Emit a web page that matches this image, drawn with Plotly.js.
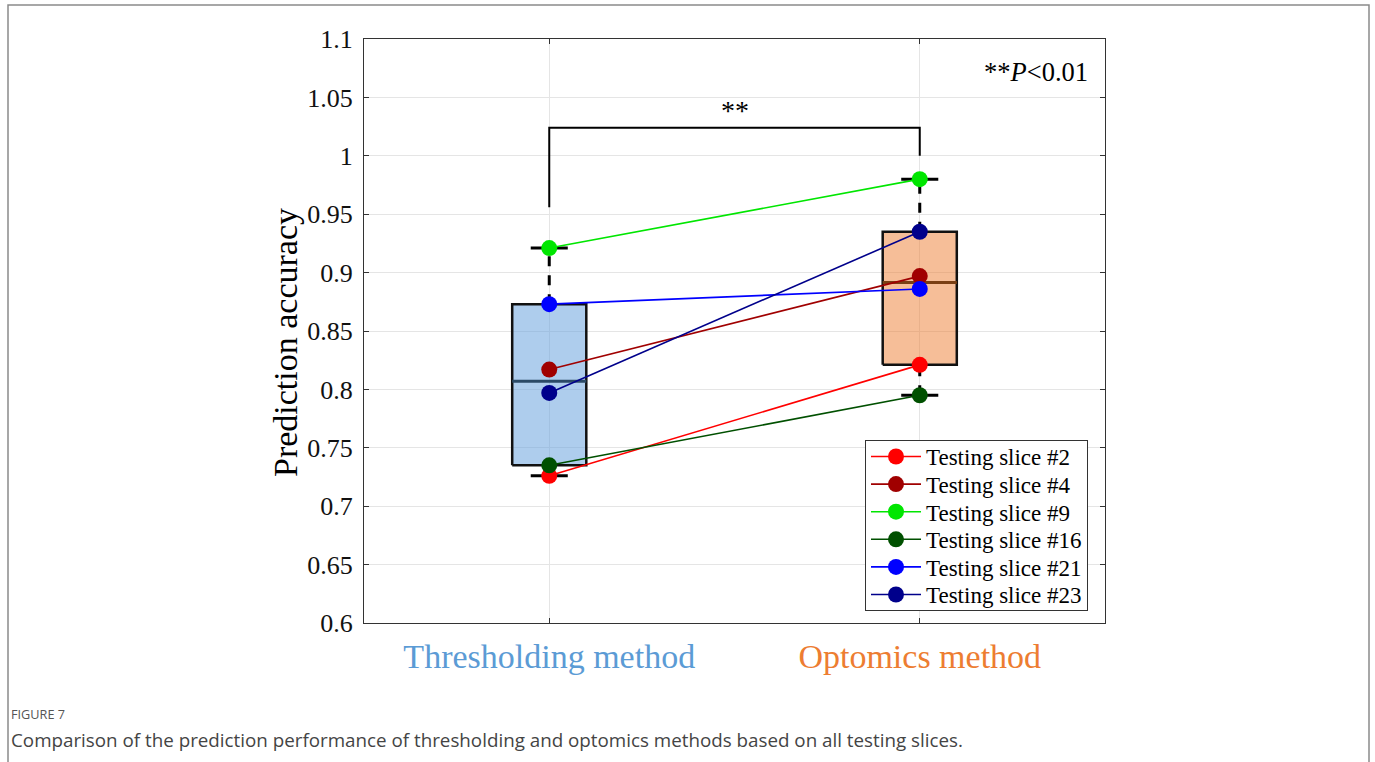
<!DOCTYPE html>
<html>
<head>
<meta charset="utf-8">
<script src="https://cdn.plot.ly/plotly-3.0.1.min.js"></script>
<style>
  html, body { margin: 0; padding: 0; background: #fff; }
  #chart { width: 1375px; height: 762px; }
</style>
</head>
<body>
<div id="chart"></div>
<script>
// ---------- data ----------
const methods = ['Thresholding method', 'Optomics method'];
const methodColors = ['#5b9bd5', '#ed7d31'];
const sliceNames = ['Testing slice #2', 'Testing slice #4', 'Testing slice #9',
                    'Testing slice #16', 'Testing slice #21', 'Testing slice #23'];
const sliceColors = ['#ff0000', '#a00000', '#00e600', '#005000', '#0000ff', '#00008b'];
const thresholdingAcc = [0.726, 0.817, 0.921, 0.735, 0.873, 0.797];
const optomicsAcc     = [0.821, 0.897, 0.980, 0.795, 0.886, 0.935];
const yTickVals = [0.6, 0.65, 0.7, 0.75, 0.8, 0.85, 0.9, 0.95, 1, 1.05, 1.1];
const yTickText = ['0.6', '0.65', '0.7', '0.75', '0.8', '0.85', '0.9', '0.95', '1', '1.05', '1.1'];
const bracketY = [0.956, 1.024, 1.024, 1.0];
const sigLabel = '**';
const pLabel = '**<i>P</i>&lt;0.01';
const figLabel = 'FIGURE 7';
const captionText = 'Comparison of the prediction performance of thresholding and optomics methods based on all testing slices.';

// ---------- helpers ----------
function prctile(arr, p) { // MATLAB-style percentile
  const s = arr.slice().sort((a, b) => a - b);
  const n = s.length;
  const pos = n * p / 100 + 0.5; // 1-based
  if (pos <= 1) return s[0];
  if (pos >= n) return s[n - 1];
  const lo = Math.floor(pos), f = pos - lo;
  return s[lo - 1] + f * (s[lo] - s[lo - 1]);
}
function boxStats(arr) {
  const q1 = prctile(arr, 25), q3 = prctile(arr, 75), med = prctile(arr, 50);
  const iqr = q3 - q1;
  const inside = arr.filter(v => v >= q1 - 1.5 * iqr && v <= q3 + 1.5 * iqr);
  return { q1, q3, med, lo: Math.min(...inside), hi: Math.max(...inside) };
}

const groups = [thresholdingAcc, optomicsAcc];
const boxFill = ['rgba(100,160,220,0.52)', 'rgba(237,125,49,0.5)'];
const medianColor = ['#2b4a66', '#7a3f14'];
const boxHalf = 0.1, capHalf = 0.05;

const traces = [];
groups.forEach((g, i) => {
  const s = boxStats(g);
  traces.push({ x: [i, i], y: [s.q3, s.hi], mode: 'lines', showlegend: false, hoverinfo: 'skip',
    line: { color: '#000', width: 3, dash: '10px,9px' } });
  traces.push({ x: [i, i], y: [s.lo, s.q1], mode: 'lines', showlegend: false, hoverinfo: 'skip',
    line: { color: '#000', width: 3, dash: '10px,9px' } });
  traces.push({ x: [i - capHalf, i + capHalf, null, i - capHalf, i + capHalf],
    y: [s.hi, s.hi, null, s.lo, s.lo], mode: 'lines', showlegend: false, hoverinfo: 'skip',
    line: { color: '#000', width: 3 } });
  traces.push({ x: [i - boxHalf, i + boxHalf, i + boxHalf, i - boxHalf, i - boxHalf],
    y: [s.q1, s.q1, s.q3, s.q3, s.q1], mode: 'lines', fill: 'toself', fillcolor: boxFill[i],
    showlegend: false, hoverinfo: 'skip', line: { color: '#111', width: 2.5 } });
  traces.push({ x: [i - boxHalf, i + boxHalf], y: [s.med, s.med], mode: 'lines',
    showlegend: false, hoverinfo: 'skip', line: { color: medianColor[i], width: 3 } });
});
traces.push({ x: [0, 0, 1, 1], y: bracketY, mode: 'lines', showlegend: false, hoverinfo: 'skip',
  line: { color: '#000', width: 2 } });
sliceNames.forEach((name, k) => {
  traces.push({ x: [0, 1], y: [thresholdingAcc[k], optomicsAcc[k]], name: name,
    mode: 'lines+markers', line: { color: sliceColors[k], width: 1.6 },
    marker: { color: sliceColors[k], size: 16 } });
});

// pixel -> paper helpers for layout (plot area: x 364..1105, y 39..623)
const L = 364, R = 1105, T = 39, B = 623;
const px = v => (v - L) / (R - L);
const py = v => (B - v) / (B - T);

const serif = 'Liberation Serif, Times New Roman, serif';
const layout = {
  width: 1375, height: 762,
  margin: { l: L, r: 1375 - R, t: T, b: 762 - B },
  paper_bgcolor: '#fff', plot_bgcolor: '#fff',
  showlegend: true,
  font: { family: serif, color: '#000' },
  xaxis: {
    range: [-0.5, 1.5], tickmode: 'array', tickvals: [0, 1],
    ticktext: methods.map((m, i) => '<span style="color:' + methodColors[i] + '">' + m + '</span>'),
    tickfont: { family: serif, size: 34 },
    showgrid: true, gridcolor: '#e5e5e5', gridwidth: 1,
    showline: true, linecolor: '#333', linewidth: 1, mirror: 'ticks',
    ticks: 'inside', ticklen: 5, tickcolor: '#333', zeroline: false,
    ticklabelstandoff: 3
  },
  yaxis: {
    range: [0.6, 1.1], tickmode: 'array', tickvals: yTickVals, ticktext: yTickText,
    tickfont: { family: serif, size: 26, color: '#111' },
    showgrid: true, gridcolor: '#e5e5e5', gridwidth: 1,
    showline: true, linecolor: '#333', linewidth: 1, mirror: 'ticks',
    ticks: 'inside', ticklen: 5, tickcolor: '#333', zeroline: false,
    ticklabelstandoff: 5
  },
  legend: {
    x: px(865), y: py(440), xanchor: 'left', yanchor: 'top',
    bgcolor: '#fff', bordercolor: '#333', borderwidth: 1,
    font: { family: serif, size: 23, color: '#000' },
    itemwidth: 50, tracegroupgap: 0
  },
  annotations: [
    { xref: 'paper', yref: 'paper', x: px(285), y: py(343), text: 'Prediction accuracy',
      textangle: -90, showarrow: false, xanchor: 'center', yanchor: 'middle',
      font: { family: serif, size: 34, color: '#000' } },
    { xref: 'x', yref: 'y', x: 0.5, y: 1.024, text: sigLabel, showarrow: false,
      xanchor: 'center', yanchor: 'bottom', font: { family: serif, size: 28, color: '#000' } },
    { xref: 'paper', yref: 'paper', x: px(1090), y: py(72), text: pLabel, showarrow: false,
      xanchor: 'right', yanchor: 'middle', font: { family: serif, size: 26.5, color: '#000' } },
    { xref: 'paper', yref: 'paper', x: px(9), y: py(714), text: figLabel, showarrow: false,
      xanchor: 'left', yanchor: 'middle', font: { family: 'Open Sans, sans-serif', size: 12.7, color: '#555' } },
    { xref: 'paper', yref: 'paper', x: px(9), y: py(740), text: captionText, showarrow: false,
      xanchor: 'left', yanchor: 'middle', font: { family: 'Open Sans, sans-serif', size: 18.8, color: '#444' } }
  ],
  shapes: [
    { type: 'rect', xref: 'paper', yref: 'paper', x0: px(8), x1: px(1369), y0: py(5), y1: py(800),
      line: { color: '#8a8a8a', width: 1.5 } }
  ]
};

Plotly.newPlot('chart', traces, layout, { displayModeBar: false, staticPlot: true }).then(() => {
  // tighten legend row spacing to match the reference
  const leg = document.querySelector('.legend');
  if (!leg) return;
  const items = leg.querySelectorAll('.traces');
  const rowH = 27.6, firstY = 16.5;
  items.forEach((el, k) => {
    const t = el.getAttribute('transform') || '';
    const m = t.match(/translate\(\s*([-\d.]+)[ ,]+([-\d.]+)\s*\)/);
    const x = m ? parseFloat(m[1]) : 1;
    el.setAttribute('transform', 'translate(' + x + ',' + (firstY + rowH * k) + ')');
  });
  const bg = leg.querySelector('rect.bg');
  if (bg) bg.setAttribute('height', firstY + rowH * (items.length - 1) + 15);
});
</script>
</body>
</html>
